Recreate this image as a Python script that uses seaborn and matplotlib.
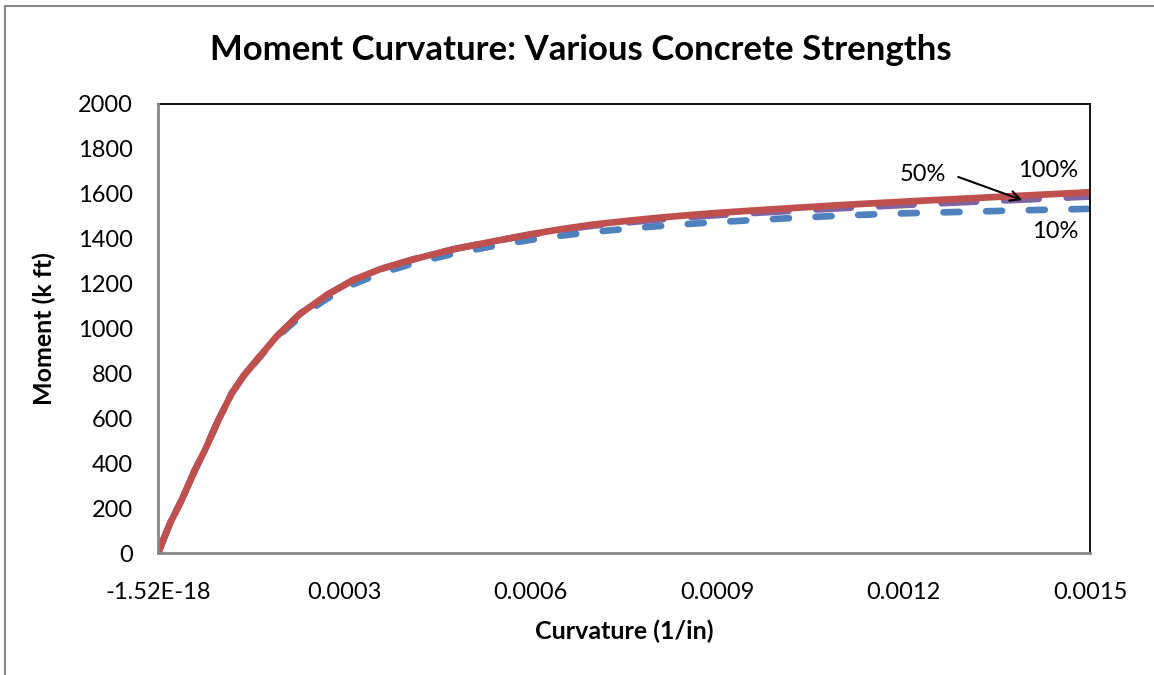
import matplotlib
matplotlib.use("Agg")
import matplotlib.pyplot as plt
import matplotlib.ticker as mticker
from matplotlib.lines import Line2D
import seaborn as sns
import pandas as pd

# curvature (1/in) and moment (k ft) for three concrete strengths
curvature = [0, 1.93e-5, 3.81e-5, 5.95e-5, 7.56e-5, 9.71e-5, 1.186e-4, 1.38e-4, 1.65e-4,
             1.91e-4, 2.285e-4, 2.715e-4, 3.143e-4, 3.573e-4, 4.109e-4, 4.753e-4, 5.45e-4,
             6.0e-4, 6.5e-4, 7.0e-4, 7.5e-4, 8.0e-4, 8.5e-4, 9.0e-4, 1.0e-3, 1.1e-3,
             1.2e-3, 1.3e-3, 1.4e-3, 1.5e-3]
moment_10 = [0, 132, 236, 370, 459, 592, 711, 788, 876, 960, 1052, 1132, 1197, 1245, 1290,
             1333, 1370, 1395, 1414, 1430, 1443, 1455, 1465, 1474, 1489, 1503, 1513, 1520,
             1527, 1533]
moment_50 = [0, 132, 236, 370, 459, 592, 711, 790, 880, 965, 1065, 1149, 1216, 1264, 1308,
             1353, 1391, 1418, 1440, 1458, 1471, 1484, 1495, 1505, 1521, 1536, 1550, 1563,
             1575, 1588]
moment_100 = [0, 132, 236, 370, 459, 592, 711, 790, 880, 965, 1065, 1149, 1216, 1264, 1308,
              1353, 1391, 1420, 1443, 1463, 1478, 1492, 1504, 1515, 1533, 1550, 1565, 1579,
              1593, 1607]

series_names = ["10%", "50%", "100%"]
xtick_labels = ["-1.52E-18", "0.0003", "0.0006", "0.0009", "0.0012", "0.0015"]

df = pd.concat([
    pd.DataFrame({"curvature": curvature, "moment": m, "strength": name})
    for name, m in zip(series_names, [moment_10, moment_50, moment_100])
])

sns.set_style("white")
plt.rcParams["font.family"] = ["Lato", "DejaVu Sans"]
plt.rcParams["text.color"] = "black"
plt.rcParams["axes.labelcolor"] = "black"

fig = plt.figure(figsize=(11.54, 6.75), dpi=100)
ax = fig.add_axes([158 / 1154, 1 - 553 / 675, (1090 - 158) / 1154, (553 - 104) / 675])

palette = {"10%": "#4F81BD", "50%": "#8064A2", "100%": "#C0504D"}
dashes = {"10%": (2.4, 4.0), "50%": (5.2, 4.2), "100%": ""}
sns.lineplot(data=df, x="curvature", y="moment", hue="strength", style="strength",
             hue_order=series_names, style_order=series_names, palette=palette,
             dashes=dashes, linewidth=4.8, legend=False, ax=ax)
for line in ax.get_lines():
    line.set_dash_capstyle("round")
    line.set_solid_capstyle("round")
    line.set_solid_joinstyle("round")

ax.set_xlim(0, 0.0015)
ax.set_ylim(0, 2000)
ax.xaxis.set_major_locator(mticker.FixedLocator([0, 0.0003, 0.0006, 0.0009, 0.0012, 0.0015]))
ax.xaxis.set_major_formatter(mticker.FixedFormatter(xtick_labels))
ax.xaxis.set_minor_locator(mticker.MultipleLocator(0.00006))
ax.yaxis.set_major_locator(mticker.MultipleLocator(200))
ax.yaxis.set_minor_locator(mticker.MultipleLocator(40))

grey = "#868686"
for side in ["top", "right"]:
    ax.spines[side].set_color("black")
    ax.spines[side].set_linewidth(1.3)
for side in ["left", "bottom"]:
    ax.spines[side].set_color(grey)
    ax.spines[side].set_linewidth(2)
    ax.spines[side].set_zorder(5)

ax.tick_params(which="both", direction="in", color=grey, width=1.5, labelsize=17,
               labelcolor="black")
ax.tick_params(which="major", length=6)
ax.tick_params(which="minor", length=4.5)
ax.tick_params(axis="y", which="both", pad=18)
ax.tick_params(axis="x", which="both", pad=21)
ax.tick_params(top=False, right=False, which="both")

ax.set_xlabel("Curvature (1/in)", fontsize=18, weight="bold", labelpad=12, color="black")
ax.set_ylabel("Moment (k ft)", fontsize=18, weight="bold", labelpad=16, color="black")
fig.suptitle("Moment Curvature: Various Concrete Strengths", fontsize=25, weight="bold",
             x=581 / 1154, y=1 - 50 / 675, va="center", color="black")

# series labels
ax.text(1.432e-3, 1706, "100%", fontsize=17, ha="center", va="center")
ax.text(1.444e-3, 1430, "10%", fontsize=17, ha="center", va="center")
ax.text(1.231e-3, 1688, "50%", fontsize=17, ha="center", va="center")
ax.annotate("", xy=(1.391e-3, 1572), xytext=(1.288e-3, 1675),
            arrowprops=dict(arrowstyle="->,head_length=0.7,head_width=0.35", color="black",
                            lw=1.5, shrinkA=0, shrinkB=0))

# chart area border
fig.add_artist(Line2D([5 / 1154, 1], [1 - 6 / 675, 1 - 6 / 675], color=grey, lw=1.5))
fig.add_artist(Line2D([5 / 1154, 5 / 1154], [0, 1 - 6 / 675], color=grey, lw=1.5))

fig.savefig("out.png", dpi=100)
